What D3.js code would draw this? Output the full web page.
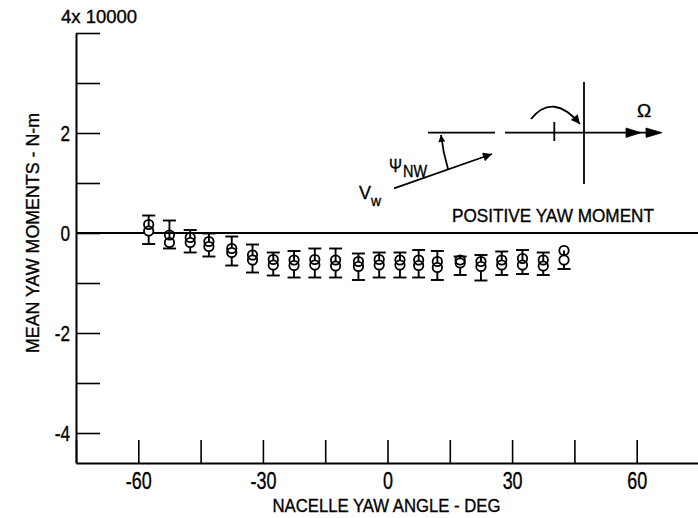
<!DOCTYPE html>
<html>
<head>
<meta charset="utf-8">
<script src="https://cdn.jsdelivr.net/npm/d3@7"></script>
<style>
  html, body { margin: 0; padding: 0; background: #fff; }
  svg { display: block; font-family: "Liberation Sans", Arial, sans-serif; }
  svg text { stroke: #000; stroke-width: 0.35px; }
</style>
</head>
<body>
<svg id="chart"></svg>
<script>
// Nacelle yaw angle, deg
const yawAngles = [-57.5, -52.5, -47.5, -43, -37.5, -32.5, -27.5, -22.5, -17.5, -12.5, -7,
                   -2, 3, 7.5, 12, 17.5, 22.5, 27.5, 32.5, 37.5, 42.5];
// mean yaw moments, units of 10000 N-m (two symbols per station)
const meanUpper = [0.17, -0.04, -0.09, -0.17, -0.31, -0.44, -0.53, -0.54, -0.53, -0.54, -0.57,
                   -0.53, -0.54, -0.54, -0.57, -0.54, -0.57, -0.54, -0.51, -0.54, -0.35];
const meanLower = [0.04, -0.19, -0.19, -0.27, -0.39, -0.54, -0.64, -0.65, -0.64, -0.66, -0.67,
                   -0.64, -0.64, -0.65, -0.69, -0.60, -0.67, -0.64, -0.64, -0.66, -0.54];
// error bar ends
const barHigh = [0.35, 0.25, 0.06, -0.01, -0.07, -0.23, -0.39, -0.36, -0.31, -0.31, -0.41,
                 -0.39, -0.39, -0.34, -0.36, -0.47, -0.44, -0.37, -0.34, -0.39, null];
const barLow = [-0.22, -0.31, -0.39, -0.47, -0.65, -0.79, -0.85, -0.89, -0.89, -0.89, -0.94,
                -0.89, -0.89, -0.89, -0.94, -0.84, -0.95, -0.84, -0.82, -0.84, -0.72];

const xTicks = d3.range(-75, 76, 15);
const xLabels = [-60, -30, 0, 30, 60];
const yTicks = d3.range(-4, 5, 1);
const yLabels = [-4, -2, 0, 2];

const width = 698;
const height = 518;

const svg = d3.select("#chart")
    .attr("width", width)
    .attr("height", height)
    .attr("viewBox", [0, 0, width, height]);

// scales
const x = d3.scaleLinear().domain([-75, 75]).range([76, 699]);
const y = d3.scaleLinear().domain([-4.6, 4]).range([463, 33]);

// squeeze text to look like the narrow font of the original
function condense(sel, k) {
    sel.each(function() {
        const w = this.getComputedTextLength();
        d3.select(this).attr("textLength", w * k).attr("lengthAdjust", "spacingAndGlyphs");
    });
}

// x-axis
const gx = svg.append("g")
    .attr("transform", `translate(0,${y(-4.6)})`)
    .call(d3.axisBottom(x)
        .tickValues(xTicks)
        .tickSizeInner(-23)
        .tickSizeOuter(0)
        .tickPadding(10)
        .tickFormat(d => xLabels.includes(d) ? String(d) : ""));
gx.select(".domain").attr("stroke-width", 2);
gx.selectAll(".tick line").attr("stroke-width", 1.6);
gx.selectAll(".tick text").attr("font-size", 23).attr("fill", "#000").call(condense, 0.78);

// y-axis
const gy = svg.append("g")
    .attr("transform", `translate(${x(-75)},0)`)
    .call(d3.axisLeft(y)
        .tickValues(yTicks)
        .tickSizeInner(-24)
        .tickSizeOuter(0)
        .tickPadding(6)
        .tickFormat(d => yLabels.includes(d) ? String(d) : ""));
gy.select(".domain").attr("stroke-width", 2);
gy.selectAll(".tick line").attr("stroke-width", 1.6);
gy.selectAll(".tick text").attr("font-size", 22).attr("fill", "#000").call(condense, 0.78);

// zero line across the whole plot
svg.append("line")
    .attr("x1", x(-75)).attr("x2", x(75))
    .attr("y1", y(0)).attr("y2", y(0))
    .attr("stroke", "#000").attr("stroke-width", 2);

// axis titles
svg.append("text")
    .attr("x", 61).attr("y", 23)
    .attr("font-size", 18)
    .attr("textLength", 76).attr("lengthAdjust", "spacingAndGlyphs")
    .text("4x 10000");

svg.append("text")
    .attr("transform", `translate(39,${y(0)}) rotate(-90)`)
    .attr("text-anchor", "middle")
    .attr("font-size", 19)
    .attr("textLength", 240).attr("lengthAdjust", "spacingAndGlyphs")
    .text("MEAN YAW MOMENTS - N-m");

svg.append("text")
    .attr("x", 386.5).attr("y", 512)
    .attr("text-anchor", "middle")
    .attr("font-size", 19)
    .attr("textLength", 228).attr("lengthAdjust", "spacingAndGlyphs")
    .text("NACELLE YAW ANGLE - DEG");

// data
const data = yawAngles.map((a, i) => ({
    angle: a, upper: meanUpper[i], lower: meanLower[i], hi: barHigh[i], lo: barLow[i]
}));

const marks = svg.append("g").attr("stroke", "#000").attr("stroke-width", 1.9);

marks.selectAll(".bar")
  .data(data)
  .join("line")
    .attr("class", "bar")
    .attr("x1", d => x(d.angle)).attr("x2", d => x(d.angle))
    .attr("y1", d => y(d.hi == null ? d.upper : d.hi))
    .attr("y2", d => y(d.lo));

marks.selectAll(".capHi")
  .data(data.filter(d => d.hi != null))
  .join("line")
    .attr("class", "capHi")
    .attr("x1", d => x(d.angle) - 6.5).attr("x2", d => x(d.angle) + 6.5)
    .attr("y1", d => y(d.hi)).attr("y2", d => y(d.hi));

marks.selectAll(".capLo")
  .data(data)
  .join("line")
    .attr("class", "capLo")
    .attr("x1", d => x(d.angle) - 6.5).attr("x2", d => x(d.angle) + 6.5)
    .attr("y1", d => y(d.lo)).attr("y2", d => y(d.lo));

marks.selectAll(".ptLower")
  .data(data)
  .join("circle")
    .attr("class", "ptLower")
    .attr("cx", d => x(d.angle))
    .attr("cy", d => y(d.lower))
    .attr("r", 4.7)
    .attr("fill", "#fff")
    .attr("stroke-width", 1.8);

marks.selectAll(".ptUpper")
  .data(data)
  .join("circle")
    .attr("class", "ptUpper")
    .attr("cx", d => x(d.angle))
    .attr("cy", d => y(d.upper))
    .attr("r", 4.7)
    .attr("fill", "none")
    .attr("stroke-width", 1.8);

// sketch of the sign convention
const defs = svg.append("defs");
defs.append("marker")
    .attr("id", "head")
    .attr("viewBox", "0 -5 10 10")
    .attr("refX", 10).attr("refY", 0)
    .attr("markerUnits", "userSpaceOnUse")
    .attr("markerWidth", 15).attr("markerHeight", 9)
    .attr("orient", "auto")
  .append("path")
    .attr("d", "M0,-5L10,0L0,5Z")
    .attr("fill", "#000");
defs.append("marker")
    .attr("id", "headSmall")
    .attr("viewBox", "0 -5 10 10")
    .attr("refX", 10).attr("refY", 0)
    .attr("markerUnits", "userSpaceOnUse")
    .attr("markerWidth", 10).attr("markerHeight", 7)
    .attr("orient", "auto")
  .append("path")
    .attr("d", "M0,-5L10,0L0,5Z")
    .attr("fill", "#000");

const sketch = svg.append("g")
    .attr("stroke", "#000").attr("stroke-width", 1.8).attr("fill", "none");

sketch.append("line").attr("x1", 428).attr("x2", 495).attr("y1", 132.7).attr("y2", 132.7);
sketch.append("line").attr("x1", 505).attr("x2", 650).attr("y1", 132.7).attr("y2", 132.7);
sketch.append("path").attr("d", "M626,128L641,132.7L626,137.4Z").attr("fill", "#000").attr("stroke-width", 0.8);
sketch.append("path").attr("d", "M646,128L662,132.7L646,137.4Z").attr("fill", "#000").attr("stroke-width", 0.8);
sketch.append("line").attr("x1", 554.3).attr("x2", 554.3).attr("y1", 122).attr("y2", 141);
sketch.append("line").attr("x1", 584).attr("x2", 584).attr("y1", 82).attr("y2", 184);
sketch.append("path").attr("d", "M531,119 Q553,92 580,124").attr("marker-end", "url(#head)");
sketch.append("line").attr("x1", 394).attr("y1", 188.3).attr("x2", 492).attr("y2", 154)
    .attr("marker-end", "url(#head)");
sketch.append("path").attr("d", "M448,169 Q443,152 441,135").attr("marker-end", "url(#headSmall)");

svg.append("text").attr("x", 389).attr("y", 172).attr("font-size", 19)
    .attr("textLength", 13).attr("lengthAdjust", "spacingAndGlyphs").text("\u03A8");
svg.append("text").attr("x", 403).attr("y", 177).attr("font-size", 16)
    .attr("textLength", 24).attr("lengthAdjust", "spacingAndGlyphs").text("NW");
svg.append("text").attr("x", 359).attr("y", 199).attr("font-size", 19)
    .attr("textLength", 12).attr("lengthAdjust", "spacingAndGlyphs").text("V");
svg.append("text").attr("x", 371).attr("y", 206).attr("font-size", 15)
    .attr("textLength", 10).attr("lengthAdjust", "spacingAndGlyphs").text("w");
svg.append("text").attr("x", 644).attr("y", 117).attr("text-anchor", "middle")
    .attr("font-size", 19).text("\u03A9");

svg.append("text")
    .attr("x", 452).attr("y", 222)
    .attr("font-size", 19)
    .attr("textLength", 202).attr("lengthAdjust", "spacingAndGlyphs")
    .text("POSITIVE YAW MOMENT");
</script>
</body>
</html>
